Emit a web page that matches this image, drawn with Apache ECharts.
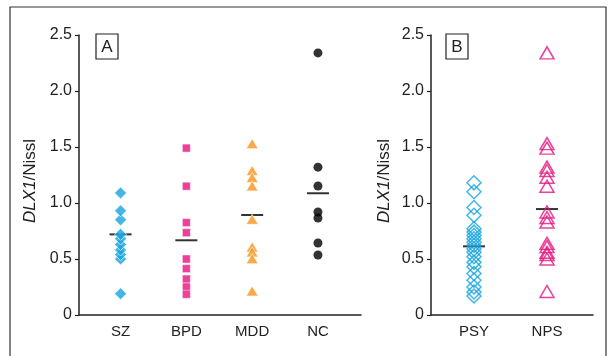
<!DOCTYPE html>
<html><head><meta charset="utf-8">
<script src="https://cdn.jsdelivr.net/npm/echarts@6/dist/echarts.min.js"></script>
<style>html,body{margin:0;padding:0;background:#fff}#c{width:610px;height:356px}</style>
</head><body><div id="c"></div>
<script>
// ---- data ----
const catsA = ['SZ', 'BPD', 'MDD', 'NC'];
const catsB = ['PSY', 'NPS'];
const yTicks = [0, 0.5, 1.0, 1.5, 2.0, 2.5];
const sz  = [0.19, 0.50, 0.54, 0.58, 0.63, 0.68, 0.72, 0.85, 0.93, 1.09];
const bpd = [1.49, 1.15, 0.825, 0.735, 0.50, 0.414, 0.321, 0.25, 0.185];
const mdd = [1.53, 1.29, 1.227, 1.152, 0.854, 0.607, 0.563, 0.503, 0.214];
const nc  = [2.34, 1.32, 1.152, 0.92, 0.866, 0.643, 0.536];
const meanA = [0.72, 0.667, 0.893, 1.087];
const psy = [1.18, 1.10, 0.96, 0.89, 0.77, 0.74, 0.71, 0.68, 0.65, 0.62, 0.59, 0.56, 0.52, 0.47, 0.43, 0.37, 0.31, 0.25, 0.205, 0.17];
const nps = [2.34, 1.53, 1.49, 1.32, 1.29, 1.23, 1.15, 0.92, 0.87, 0.83, 0.64, 0.61, 0.56, 0.54, 0.50, 0.21];
const meanB = [0.613, 0.946];

const CYAN = '#15A4E0', PINK = '#E5137F', ORANGE = '#F7941D', BLACK = '#000';
const FONT = '"Liberation Sans", Arial, sans-serif';

const pts = (arr, x) => arr.map(v => [x, v]);
const chart = echarts.init(document.getElementById('c'), null, {renderer: 'canvas'});

function yAxis(gi, gap) {
  return {
    type: 'value', gridIndex: gi, min: 0, max: 2.5, interval: 0.5,
    name: '{i|DLX1}{n|/Nissl}', nameLocation: 'middle', nameGap: gap, nameRotate: 90,
    nameTextStyle: { padding: [0, 12, 0, 0], rich: {
      i: {fontFamily: FONT, fontSize: 17, fontStyle: 'italic', color: '#222'},
      n: {fontFamily: FONT, fontSize: 17, color: '#222'} } },
    axisLine: {show: true, lineStyle: {color: '#222', width: 1.5}},
    axisTick: {show: true, length: 4, lineStyle: {color: '#222', width: 1.2}},
    axisLabel: {margin: 7, fontFamily: FONT, fontSize: 16, color: '#222',
      formatter: v => yTicks.indexOf(v) >= 0 ? (v === 0 ? '0' : v.toFixed(1)) : ''},
    splitLine: {show: false}
  };
}
function xAxis(gi, min, max, cats) {
  return {
    type: 'value', gridIndex: gi, min: min, max: max,
    axisLine: {show: true, onZero: false, lineStyle: {color: '#222', width: 1.5}},
    axisTick: {show: false},
    splitLine: {show: false},
    axisLabel: {show: true, margin: 9, fontFamily: FONT, fontSize: 15, color: '#222',
      customValues: cats.map((c, i) => i + 1),
      formatter: v => cats[Math.round(v) - 1] || ''}
  };
}
function sc(xi, data, symbol, size, style) {
  return {type: 'scatter', xAxisIndex: xi, yAxisIndex: xi, data: data,
    symbol: symbol, symbolSize: size, itemStyle: style, silent: true, animation: false};
}

chart.setOption({
  animation: false,
  grid: [
    {left: 79, top: 35, width: 282, height: 280},
    {left: 431, top: 35, width: 162, height: 280}
  ],
  xAxis: [xAxis(0, 0.3685, 4.654, catsA), xAxis(1, 0.411, 2.63, catsB)],
  yAxis: [yAxis(0, 40), yAxis(1, 38)],
  series: [
    sc(0, meanA.map((v, i) => [i + 1, v]), 'rect', [22, 2], {color: BLACK}),
    sc(0, pts(sz, 1), 'diamond', 12, {color: CYAN, borderColor: '#fff', borderWidth: 0.8}),
    sc(0, pts(bpd, 2), 'rect', 8, {color: PINK, borderColor: '#fff', borderWidth: 0.6}),
    sc(0, pts(mdd, 3), 'triangle', [12, 10], {color: ORANGE, borderColor: '#fff', borderWidth: 0.8}),
    sc(0, pts(nc, 4), 'circle', 9, {color: BLACK}),
    sc(1, meanB.map((v, i) => [i + 1, v]), 'rect', [22, 2], {color: BLACK}),
    sc(1, pts(psy, 1), 'diamond', 14, {color: 'rgba(0,0,0,0)', borderColor: CYAN, borderWidth: 1.5}),
    sc(1, pts(nps, 2), 'triangle', [14, 12], {color: 'rgba(0,0,0,0)', borderColor: PINK, borderWidth: 1.5})
  ],
  graphic: [
    {type: 'polyline', shape: {points: [[10, 360], [10, 7], [606, 7], [606, 360]]},
     style: {stroke: '#333', lineWidth: 1.2, fill: null}, silent: true},
    {type: 'rect', shape: {x: 96, y: 34, width: 22, height: 25},
     style: {stroke: '#222', lineWidth: 1.2, fill: '#fff'}},
    {type: 'text', x: 107, y: 47, style: {text: 'A', font: '17px ' + FONT, fill: '#222', align: 'center', verticalAlign: 'middle'}},
    {type: 'rect', shape: {x: 446, y: 34, width: 22, height: 25},
     style: {stroke: '#222', lineWidth: 1.2, fill: '#fff'}},
    {type: 'text', x: 457, y: 47, style: {text: 'B', font: '17px ' + FONT, fill: '#222', align: 'center', verticalAlign: 'middle'}}
  ]
});
</script></body></html>
